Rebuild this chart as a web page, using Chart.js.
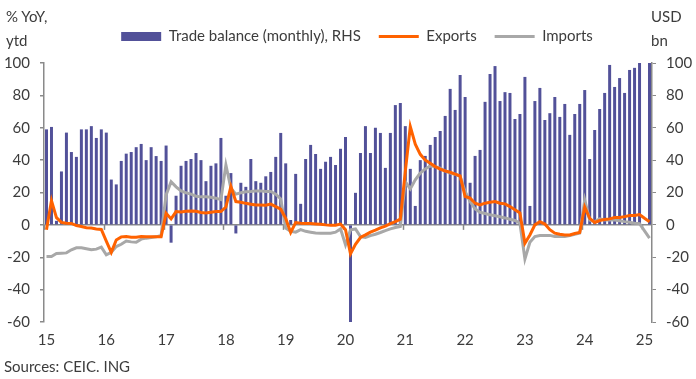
<!DOCTYPE html>
<html>
<head>
<meta charset="utf-8">
<script src="https://cdn.jsdelivr.net/npm/chart.js"></script>
<style>
  body { margin: 0; background: #fff; }
  #wrap { position: relative; width: 696px; height: 379px; font-family: Lato, sans-serif; color: #3c3c3c; }
  #wrap canvas { position: absolute; left: 0; top: 0; }
  .note { position: absolute; font-size: 15px; line-height: 24px; white-space: nowrap; }
</style>
</head>
<body>
<div id="wrap">
  <canvas id="chart" width="696" height="379"></canvas>
  <div class="note" style="left:6px; top:4px;">% YoY,<br>ytd</div>
  <div class="note" style="left:651px; top:4px;">USD<br>bn</div>
  <div class="note" style="left:4px; top:354px;">Sources: CEIC. ING</div>
</div>
<script>
// monthly, Jan 2015 .. Feb 2025
var years = ['15', '16', '17', '18', '19', '20', '21', '22', '23', '24', '25'];
var months = [];
for (var y = 0; y < years.length; y++) {
    for (var m = 1; m <= 12; m++) {
        if (y === years.length - 1 && m > 2) break;
        months.push('20' + years[y] + '-' + (m < 10 ? '0' + m : m));
    }
}

// trade balance, USD bn (RHS)
var tradeBalance = [
    59, 60.5, 2.5, 33, 57, 45, 42, 59, 59, 61, 53.7, 59,
    57, 28, 25, 39.5, 44, 45, 48, 50, 40, 48, 42.5, 39.5,
    49, -11, 18, 36.5, 39.5, 40.7, 44.4, 40, 27, 36.5, 38, 53.7,
    18, 32, -5.3, 26, 23.5, 40.7, 27, 26, 30, 32.7, 42, 56.8,
    38, 3, 31.5, 13, 40.7, 49.4, 43.8, 34.6, 39, 42, 37, 47,
    54.3, -60.3, 19.8, 44.4, 61, 44.4, 60, 56.8, 35.2, 56.8, 74, 75.3,
    61, 34.6, 11.7, 40, 42.6, 49.4, 54.3, 58, 67.3, 84, 71, 92.6,
    79, 26, 42.6, 46.3, 76, 93.2, 98.1, 76.5, 82, 81.5, 65.4, 68.5,
    91.4, 11.7, 76.5, 84.6, 64.8, 69, 79, 66.7, 74.7, 55.6, 68.5, 74.7,
    83.3, 40.7, 58.6, 71.6, 81.5, 98.8, 85.2, 90.7, 81.5, 95.7, 97, 100,
    null, 100
];

// exports, % YoY ytd
var exportsYtd = [
    -3, 15, 4.5, 1.5, 1, 0.9, -0.4, -1, -1.8, -2, -2.5, -2.8,
    -10, -17, -9.3, -7.4, -7.2, -7.6, -7.6, -7.2, -7.4, -7.4, -7.4, -7.4,
    7.2, 3.7, 8.2, 8, 8.4, 8.6, 8.4, 7.6, 7.4, 7.8, 8.2, 8.2,
    11, 23.7, 14.4, 14, 13.3, 12.8, 12.3, 12.3, 12.1, 12.8, 11.3, 9.7,
    4, -4.7, 1.4, 1, 0.8, 0.8, 0.6, 0.4, 0, -0.2, -0.2, 0.5,
    -3, -17.9, -12, -7.8, -6.2, -4.5, -3.3, -1.9, -0.8, 0.8, 2, 3.5,
    33, 60.7, 49.8, 43.6, 40, 38, 36, 34.4, 33.3, 32.5, 31.3, 30.2,
    17.5, 16.5, 13.4, 12.3, 13.4, 14, 14.4, 13.4, 13, 11.3, 9.3, 7.4,
    -11.3, -6.2, 0, 2, 0.5, -3, -5.1, -5.8, -6.2, -6.2, -5.3, -4.7,
    11, 4, 1.5, 2.7, 3.3, 3.7, 4.5, 4.5, 5.1, 5.8, 5.8, 6.4,
    4.1, 2
];

// imports, % YoY ytd
var importsYtd = [
    -19.5, -19.5, -17.7, -17.5, -17.3, -15.4, -14.2, -14.2, -14.8, -15.4, -15, -13.8,
    -18.5, -16.9, -13.4, -12, -10, -10.5, -10.7, -8.8, -8.2, -7.8, -7.4, -6.5,
    18.5, 26.7, 23.5, 21, 19.8, 19, 17.7, 17.3, 17.3, 17, 16.5, 15.6,
    37, 22.6, 19, 19.8, 20.4, 20.6, 21, 21, 20.6, 20.6, 19, 16,
    -2, -4, -4.5, -2.9, -4, -4.5, -5, -5.1, -5.1, -5.1, -4.5, -2.5,
    -12.3, -3, -2.5, -7.2, -7.8, -6.6, -5.8, -4.7, -3.5, -2.5, -1.6, -1,
    26.7, 22.2, 27.8, 32, 34.6, 36.4, 36, 35, 33.3, 32, 31.3, 30,
    20.6, 14.4, 9.9, 7.8, 7, 6.2, 5.6, 5, 4.3, 3.5, 2.7, 1,
    -21, -10.7, -7.2, -6.6, -6.6, -6.5, -7.2, -7.2, -7.2, -6.6, -5.8, -5.1,
    15.4, 3, 2, 3.7, 3, 3, 3, 2.5, 2, 1.6, 1, 0.8,
    -3.7, -8.2
];

var yTicks = [-60, -40, -20, 0, 20, 40, 60, 80, 100];

var axisGrey = '#8a8a8a';
var textColor = '#3c3c3c';
var tickFont = { family: 'Lato', size: 15 };

// small year ticks hanging under the zero line
var yearTicks = {
    id: 'yearTicks',
    beforeDatasetsDraw: function(chart) {
        var xs = chart.scales.x, ys = chart.scales.y;
        var half = (xs.getPixelForValue(1) - xs.getPixelForValue(0)) / 2;
        var y0 = ys.getPixelForValue(0);
        var ctx = chart.ctx;
        ctx.save();
        ctx.strokeStyle = axisGrey;
        ctx.lineWidth = 1.5;
        for (var i = 0; i < months.length; i += 12) {
            var x = Math.round(xs.getPixelForValue(i) - half) + 0.5;
            ctx.beginPath();
            ctx.moveTo(x, y0);
            ctx.lineTo(x, y0 + 5);
            ctx.stroke();
        }
        ctx.restore();
    }
};

// legend sits a bit higher and right of where chart.js centres it
var legendNudge = {
    id: 'legendNudge',
    afterLayout: function(chart) {
        var lg = chart.legend;
        lg.top -= 9; lg.bottom -= 9;
        lg.left += 9; lg.right += 9;
    }
};

new Chart(document.getElementById('chart'), {
    type: 'bar',
    data: {
        labels: months,
        datasets: [{
            type: 'bar',
            label: 'Trade balance (monthly), RHS',
            data: tradeBalance,
            yAxisID: 'y1',
            backgroundColor: '#525199',
            borderWidth: 0,
            categoryPercentage: 1,
            barPercentage: 0.6,
            pointStyle: 'rect',
            order: 3
        }, {
            type: 'line',
            label: 'Exports',
            data: exportsYtd,
            yAxisID: 'y',
            borderColor: '#ff6200',
            backgroundColor: '#ff6200',
            borderWidth: 3,
            pointRadius: 0,
            tension: 0,
            pointStyle: 'line',
            order: 1
        }, {
            type: 'line',
            label: 'Imports',
            data: importsYtd,
            yAxisID: 'y',
            borderColor: '#a8a8a8',
            backgroundColor: '#a8a8a8',
            borderWidth: 3,
            pointRadius: 0,
            tension: 0,
            pointStyle: 'line',
            order: 2
        }]
    },
    options: {
        responsive: false,
        animation: false,
        layout: { padding: { top: 20, bottom: 21, left: 0, right: 0 } },
        plugins: {
            legend: {
                position: 'top',
                labels: {
                    usePointStyle: true,
                    pointStyleWidth: 40,
                    boxHeight: 9,
                    padding: 18,
                    color: textColor,
                    font: { family: 'Lato', size: 15 },
                    sort: function(a, b) { return a.datasetIndex - b.datasetIndex; }
                }
            },
            tooltip: { enabled: false }
        },
        scales: {
            x: {
                type: 'category',
                grid: { display: false, drawTicks: false },
                border: { display: false },
                ticks: {
                    autoSkip: false,
                    maxRotation: 0,
                    padding: 9,
                    color: textColor,
                    font: tickFont,
                    callback: function(val, idx) {
                        return idx % 12 === 0 ? years[idx / 12] : '';
                    }
                }
            },
            y: {
                position: 'left',
                min: -60,
                max: 100,
                afterBuildTicks: function(axis) {
                    axis.ticks = yTicks.map(function(v) { return { value: v }; });
                },
                afterFit: function(axis) { axis.width = 44; },
                grid: {
                    color: function(c) { return c.tick && c.tick.value === 0 ? axisGrey : 'transparent'; },
                    lineWidth: 1.5,
                    tickColor: axisGrey,
                    tickLength: 4
                },
                border: { display: true, color: axisGrey, width: 1.5 },
                ticks: { padding: 10, color: textColor, font: tickFont }
            },
            y1: {
                position: 'right',
                min: -60,
                max: 100,
                afterBuildTicks: function(axis) {
                    axis.ticks = yTicks.map(function(v) { return { value: v }; });
                },
                afterFit: function(axis) { axis.width = 44; },
                grid: { drawOnChartArea: false, tickColor: axisGrey, tickLength: 4 },
                border: { display: true, color: axisGrey, width: 1.5 },
                ticks: { padding: 10, color: textColor, font: tickFont }
            }
        }
    },
    plugins: [yearTicks, legendNudge]
});
</script>
</body>
</html>
